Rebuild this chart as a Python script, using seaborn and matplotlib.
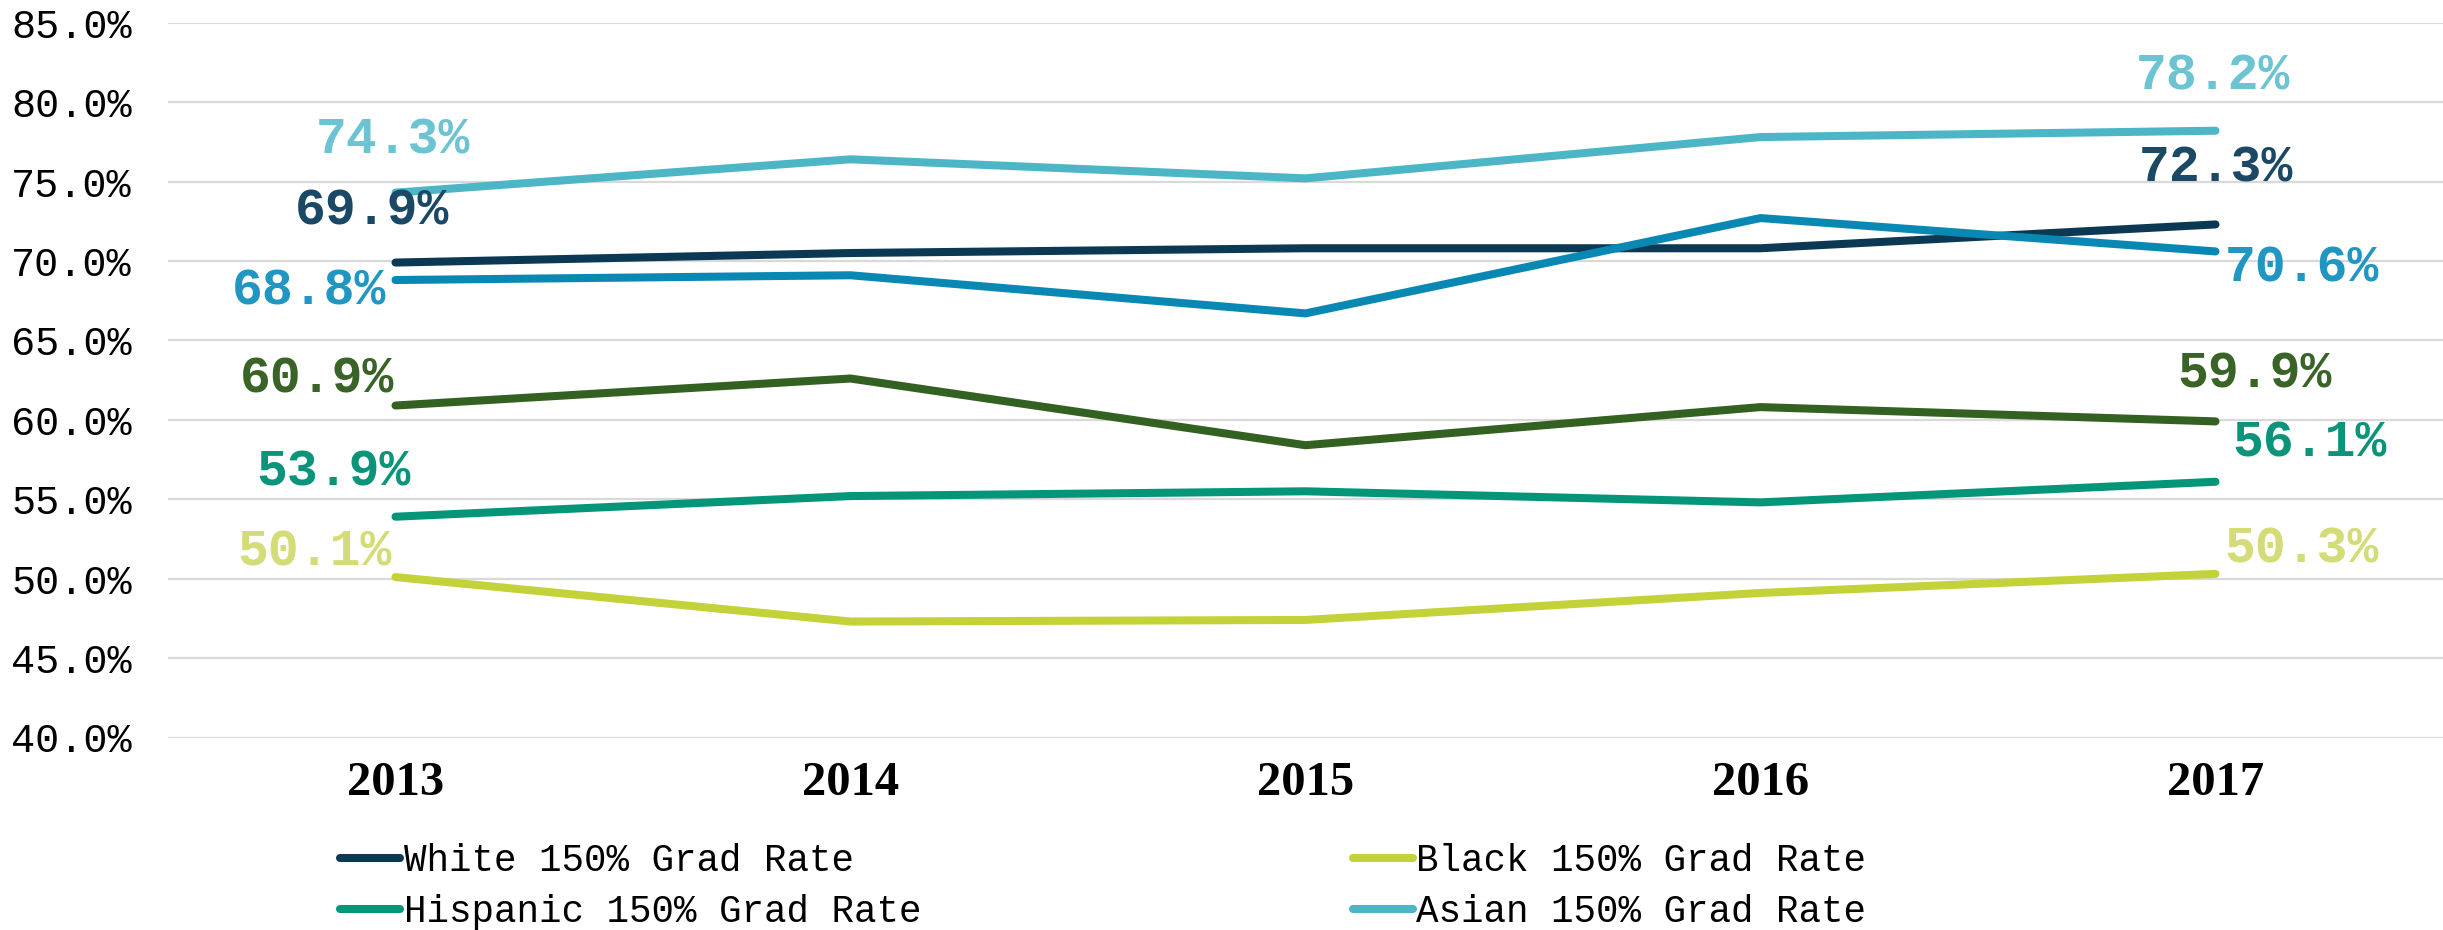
import numpy as np
import pandas as pd
import matplotlib
matplotlib.use("Agg")
import matplotlib.pyplot as plt
import seaborn as sns

# data
years = ["2013", "2014", "2015", "2016", "2017"]
white = [69.9, 70.5, 70.8, 70.8, 72.3]
black = [50.1, 47.3, 47.4, 49.1, 50.3]
hispanic = [53.9, 55.2, 55.5, 54.8, 56.1]
asian = [74.3, 76.4, 75.2, 77.8, 78.2]
unlabeled_green = [60.9, 62.6, 58.4, 60.8, 59.9]
unlabeled_blue = [68.8, 69.1, 66.7, 72.7, 70.6]
y_ticks = [40, 45, 50, 55, 60, 65, 70, 75, 80, 85]

# name, values, line colour, label colour, legend label, label offsets (px) for first / last point
series = [
    ("white", white, "#0b3954", "#1b4965", "White 150% Grad Rate", (-23, 51), (0, 56)),
    ("black", black, "#c4d23a", "#d3dc76", "Black 150% Grad Rate", (-81, 25), (86, 25)),
    ("hispanic", hispanic, "#05967a", "#0b9479", "Hispanic 150% Grad Rate", (-62, 45), (94, 39)),
    ("asian", asian, "#4db6c6", "#6cc3d1", "Asian 150% Grad Rate", (-3, 53), (-3, 55)),
    ("green", unlabeled_green, "#336122", "#3a6427", None, (-78, 26), (39, 47)),
    ("blue", unlabeled_blue, "#0a88b4", "#2096c2", None, (-86, -11), (86, -17)),
]

sns.set_style("white")
plt.rcParams["font.family"] = ["Liberation Mono", "DejaVu Sans"]
plt.rcParams["text.color"] = "black"
plt.rcParams["xtick.color"] = "black"
plt.rcParams["ytick.color"] = "black"

fig = plt.figure(figsize=(24.43, 9.30), dpi=100)
ax = fig.add_axes([168 / 2443, 1 - 737.5 / 930, 1 - 168 / 2443, (737.5 - 22.7) / 930])

x = np.arange(len(years))
handles = {}
for name, vals, lc, tc, label, off0, off1 in series:
    df = pd.DataFrame({"x": x, "y": vals})
    sns.lineplot(data=df, x="x", y="y", ax=ax, color=lc, linewidth=5.8,
                 solid_capstyle="round", solid_joinstyle="miter", legend=False)
    handles[name] = ax.lines[-1]
    for i, off in ((0, off0), (len(vals) - 1, off1)):
        ax.annotate(f"{vals[i]:.1f}%", (x[i], vals[i]), xytext=off,
                    textcoords="offset pixels", ha="center", va="center",
                    fontsize=37, fontweight="bold", color=tc,
                    family=["Liberation Mono", "DejaVu Sans"])

ax.set_xlim(-0.5, len(years) - 0.5)
ax.set_ylim(y_ticks[0], y_ticks[-1])
ax.set_yticks(y_ticks)
ax.set_yticklabels([f"{t:.1f}%" for t in y_ticks], fontsize=29, color="black")
ax.set_xticks(x)
ax.set_xticklabels(years, fontsize=35, fontweight="bold", family="Liberation Serif", color="black")
ax.tick_params(axis="y", length=0, pad=26)
ax.tick_params(axis="x", length=0, pad=17)
ax.set_xlabel("")
ax.set_ylabel("")
ax.grid(axis="y", color="#d9d9d9", linewidth=1.6)
ax.set_axisbelow(True)
for s in ax.spines.values():
    s.set_visible(False)

order = ["white", "hispanic", "black", "asian"]
labels = {n: lab for n, _, _, _, lab, _, _ in series}
leg = fig.legend([handles[n] for n in order], [labels[n] for n in order],
                 loc="upper left", bbox_to_anchor=(340 / 2443, 1 - 843 / 930),
                 ncol=2, frameon=False, fontsize=27, handlelength=1.6,
                 handletextpad=0.1, columnspacing=11.5, labelspacing=0.4,
                 borderpad=0, borderaxespad=0)
for t in leg.get_texts():
    t.set_color("black")

fig.savefig("out.png", dpi=100)
